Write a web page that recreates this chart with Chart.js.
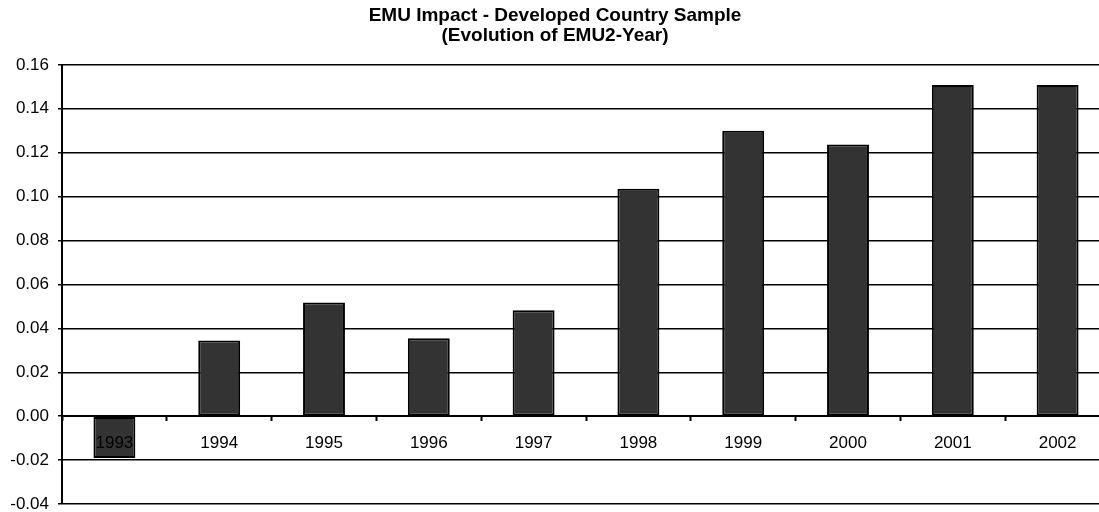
<!DOCTYPE html>
<html>
<head>
<meta charset="utf-8">
<script src="https://cdn.jsdelivr.net/npm/chart.js@4/dist/chart.umd.min.js"></script>
<style>
  body { margin: 0; background: #fff; overflow: hidden; }
</style>
</head>
<body>
<canvas id="emuChart" width="1116" height="512"></canvas>
<script>
// Data
const years = ['1993', '1994', '1995', '1996', '1997', '1998', '1999', '2000', '2001', '2002'];
const emuValues = [-0.0191, 0.0345, 0.0518, 0.0355, 0.0482, 0.1036, 0.1300, 0.1238, 0.1509, 0.1509];
const titleLines = ['EMU Impact - Developed Country Sample', '(Evolution of EMU2-Year)'];

const ctx = document.getElementById('emuChart').getContext('2d');
new Chart(ctx, {
  type: 'bar',
  data: {
    labels: years,
    datasets: [{
      data: emuValues,
      backgroundColor: '#333333',
      borderColor: '#000000',
      borderWidth: 2,
      borderSkipped: false,
      barPercentage: 0.4,
      categoryPercentage: 1.0
    }]
  },
  options: {
    responsive: false,
    animation: false,
    layout: {
      padding: { left: 0, right: 6, top: 0, bottom: 8 }
    },
    plugins: {
      legend: { display: false },
      tooltip: { enabled: false },
      title: {
        display: true,
        text: titleLines,
        color: '#000',
        font: { family: 'Liberation Sans, Arial', size: 19, weight: 'bold', lineHeight: 1.05 },
        padding: { top: 6, bottom: 19 }
      }
    },
    scales: {
      x: {
        position: { y: 0 },
        offset: true,
        // axis sits on the zero line, so it needs no room below the plot
        afterFit: (scale) => { scale.height = 0; },
        grid: {
          display: true,
          drawOnChartArea: false,
          drawTicks: true,
          tickLength: 4,
          tickWidth: 2,
          tickColor: '#000',
          offset: true
        },
        border: { display: true, color: '#000', width: 2, z: 1 },
        ticks: {
          z: 1,
          color: '#000',
          font: { family: 'Liberation Sans, Arial', size: 17 },
          padding: 13,
          maxRotation: 0,
          autoSkip: false
        }
      },
      y: {
        min: -0.04,
        max: 0.16,
        afterFit: (scale) => {
          scale.width = 62;
          scale.paddingBottom = 0;
        },
        grid: {
          color: '#000',
          lineWidth: 1.5,
          drawTicks: true,
          tickLength: 4,
          tickColor: '#000'
        },
        border: { display: true, color: '#000', width: 2 },
        ticks: {
          stepSize: 0.02,
          color: '#000',
          padding: 9,
          font: { family: 'Liberation Sans, Arial', size: 17 },
          callback: (value) => value.toFixed(2)
        }
      }
    }
  }
});
</script>
</body>
</html>
